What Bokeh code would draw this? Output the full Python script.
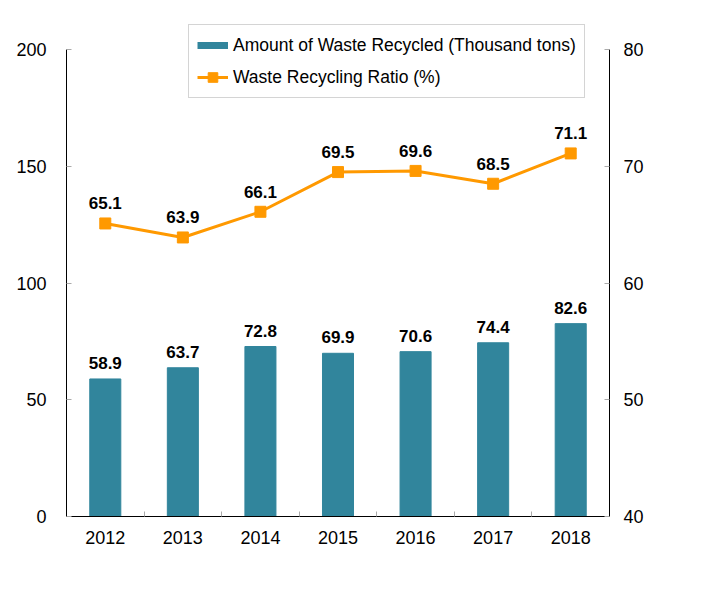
from bokeh.plotting import figure
from bokeh.models import (Range1d, LinearAxis, FixedTicker, ColumnDataSource,
                          LabelSet, Legend, LegendItem)
from bokeh.core.properties import value
from bokeh.embed import file_html
from bokeh.resources import INLINE

years = ["2012", "2013", "2014", "2015", "2016", "2017", "2018"]
recycled = [58.9, 63.7, 72.8, 69.9, 70.6, 74.4, 82.6]
ratio = [65.1, 63.9, 66.1, 69.5, 69.6, 68.5, 71.1]

BAR = "#31859C"
ORANGE = "#FF9900"
FONT = "Liberation Sans"

# left axis 0-200 and right axis 40-80 span 467px; frame extends 30px higher
EXTRA = 30 / 467
idx = list(range(1, len(years) + 1))
src = ColumnDataSource(dict(
    x=idx, rec=recycled, ratio=ratio,
    rec_lbl=[f"{v:.1f}" for v in recycled],
    ratio_lbl=[f"{v:.1f}" for v in ratio],
))

p = figure(width=694, height=587, output_backend="svg", toolbar_location=None,
           x_range=Range1d(0.5, len(years) + 0.5),
           y_range=Range1d(0, 200 * (1 + EXTRA)),
           min_border_left=66, min_border_right=85, min_border_top=19,
           min_border_bottom=71)
p.xgrid.visible = False
p.ygrid.visible = False
p.outline_line_color = None
p.background_fill_color = "white"
p.border_fill_color = "white"

p.extra_y_ranges = {"ratio": Range1d(40, 40 + 40 * (1 + EXTRA))}

bars = p.vbar(x="x", top="rec", width=0.4, source=src, fill_color=BAR,
              line_color=BAR)
line = p.line(x="x", y="ratio", source=src, y_range_name="ratio",
              line_color=ORANGE, line_width=3)
pts = p.scatter(x="x", y="ratio", source=src, y_range_name="ratio",
                marker="square", size=11, fill_color=ORANGE, line_color=ORANGE)

# legend proxy for bar swatch (not drawn in the plot)
proxy = p.line(x=[float("nan")], y=[float("nan")], line_color=BAR, line_width=7)

p.add_layout(LabelSet(x="x", y="rec", text="rec_lbl", source=src,
                      text_align="center", text_baseline="bottom", y_offset=10,
                      text_font=value(FONT), text_font_style="bold",
                      text_font_size="17px", text_color="black"))
p.add_layout(LabelSet(x="x", y="ratio", text="ratio_lbl", source=src,
                      y_range_name="ratio",
                      text_align="center", text_baseline="bottom", y_offset=14,
                      text_font=value(FONT), text_font_style="bold",
                      text_font_size="17px", text_color="black"))

def style_axis(ax):
    ax.axis_line_color = "black"
    ax.axis_line_width = 1
    ax.major_tick_in = 5
    ax.major_tick_out = 0
    ax.major_tick_line_color = "#aaaaaa"
    ax.minor_tick_line_color = None
    ax.major_label_text_font = FONT
    ax.major_label_text_font_size = "18px"
    ax.major_label_text_color = "black"

# x axis
xa = p.xaxis[0]
style_axis(xa)
xa.ticker = FixedTicker(ticks=idx, minor_ticks=[i + 0.5 for i in idx[:-1]])
xa.major_label_overrides = {i: y for i, y in zip(idx, years)}
xa.major_tick_in = 0
xa.minor_tick_in = 5
xa.minor_tick_out = 0
xa.minor_tick_line_color = "#aaaaaa"
xa.major_label_standoff = 14

ya = p.yaxis[0]
style_axis(ya)
ya.ticker = FixedTicker(ticks=[0, 50, 100, 150, 200])
ya.bounds = (0, 200)
ya.major_label_standoff = 20

ra = LinearAxis(y_range_name="ratio", ticker=FixedTicker(ticks=[40, 50, 60, 70, 80]))
style_axis(ra)
ra.bounds = (40, 80)
ra.major_label_standoff = 14
p.add_layout(ra, "right")

legend = Legend(items=[
    LegendItem(label="Amount of Waste Recycled (Thousand tons)", renderers=[proxy]),
    LegendItem(label="Waste Recycling Ratio (%)", renderers=[line, pts]),
], location=(122, 418))
legend.label_text_font = FONT
legend.label_text_font_size = "17.5px"
legend.label_text_color = "black"
legend.border_line_color = "#aaaaaa"
legend.border_line_width = 1
legend.glyph_width = 31
legend.glyph_height = 24
legend.label_height = 24
legend.label_standoff = 5
legend.spacing = 8
legend.padding = 8
legend.margin = 0
legend.background_fill_alpha = 1
p.add_layout(legend, "center")

open("out.html", "w").write(file_html(p, INLINE))
